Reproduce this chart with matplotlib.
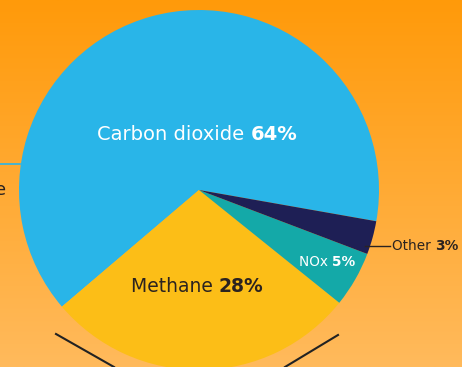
import numpy as np
import matplotlib.pyplot as plt
from matplotlib.colors import LinearSegmentedColormap

plt.rcParams['font.family'] = ['DejaVu Sans']

gases = ['Carbon dioxide', 'Methane', 'NOx', 'Other']
shares = [64, 28, 5, 3]
colors = ['#29B5E8', '#FCBE17', '#14A9A8', '#1E1F55']

W, H = 462, 367
fig = plt.figure(figsize=(W / 100, H / 100), dpi=100)
ax = fig.add_axes([0, 0, 1, 1])

# orange gradient background
bg = LinearSegmentedColormap.from_list('bg', ['#FFBA5C', '#FF9A0A'])
grad = np.linspace(0, 1, 256).reshape(-1, 1)
ax.imshow(grad, cmap=bg, extent=(0, W, 0, H), origin='lower', aspect='auto', zorder=0)

cx, cy, r = 199, H - 190, 180
ax.pie(shares, colors=colors, startangle=-10, counterclock=True,
       center=(cx, cy), radius=r, frame=True,
       wedgeprops=dict(linewidth=0, zorder=2))
ax.set_xlim(0, W)
ax.set_ylim(0, H)
ax.set_aspect('equal')
ax.axis('off')


def two_part(x, y, plain, bold, color, size):
    t = ax.text(x, y, plain + ' ', ha='left', va='center', color=color,
                fontsize=size, zorder=5)
    ax.annotate(bold, xycoords=t, xy=(1, 0.5), va='center', ha='left',
                color=color, fontsize=size, fontweight='bold', zorder=5)


two_part(97, H - 135, gases[0], '%d%%' % shares[0], 'white', 14)
two_part(131, H - 287, gases[1], '%d%%' % shares[1], '#2B2320', 13.5)
two_part(299, H - 262, gases[2], '%d%%' % shares[2], 'white', 9.8)
two_part(392, H - 246, gases[3], '%d%%' % shares[3], '#2B2320', 9.8)

# leader lines
ax.plot([365, 390], [H - 246, H - 246], color='#2B2320', lw=1, zorder=4)
ax.plot([0, 20], [H - 164, H - 164], color='#29B5E8', lw=1.2, zorder=1)
ax.plot([56, 114], [H - 334, H - 367], color='#222222', lw=1.5, zorder=1)
ax.plot([338, 285], [H - 335, H - 367], color='#222222', lw=1.5, zorder=1)
ax.text(6, H - 190, 'e', ha='right', va='center', color='#2B2320', fontsize=13)

fig.savefig('out.png', dpi=100)
